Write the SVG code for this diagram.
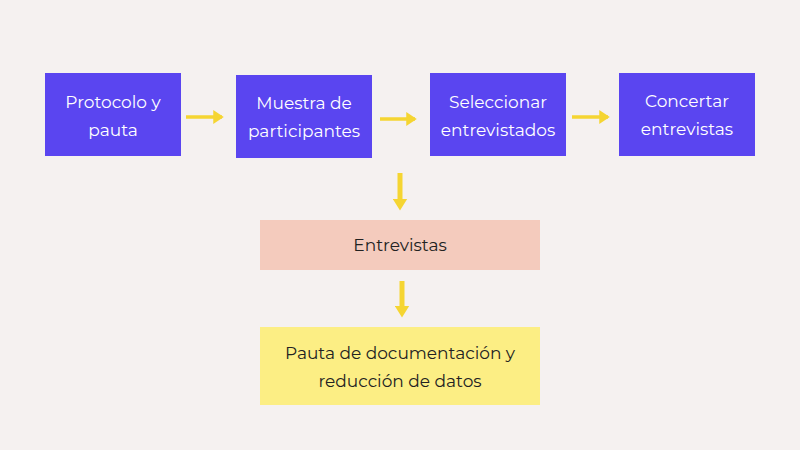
<svg xmlns="http://www.w3.org/2000/svg" width="800" height="450" viewBox="0 0 800 450">
<style>
.b{fill:#5a45f0}
.w{fill:#ffffff;font-family:Montserrat,"Open Sans","Noto Sans",sans-serif;font-size:17px;text-anchor:middle}
.d{fill:#222;font-family:Montserrat,"Open Sans","Noto Sans",sans-serif;font-size:17px;text-anchor:middle}
.c line{stroke:#f5d532;stroke-width:3.5}
</style>
<defs><marker id="a" markerWidth="4" markerHeight="4" refX="2.5" refY="2" orient="auto"><path d="M0,0 L3,2 L0,4Z" fill="#f5d532"/></marker>
<marker id="a2" markerWidth="3" markerHeight="3" refX="1.5" refY="1.5" orient="auto"><path d="M0,0 L2.4,1.5 L0,3Z" fill="#f5d532"/></marker></defs>
<rect width="800" height="450" fill="#f5f1f0"/>
<g id="n1"><rect class="b" x="45" y="73" width="136" height="83"/><text class="w" x="113" y="108">Protocolo y</text><text class="w" x="113" y="136">pauta</text></g>
<g id="n2"><rect class="b" x="236" y="75" width="136" height="83"/><text class="w" x="304" y="109">Muestra de</text><text class="w" x="304" y="137">participantes</text></g>
<g id="n3"><rect class="b" x="430" y="73" width="136" height="83"/><text class="w" x="498" y="108">Seleccionar</text><text class="w" x="498" y="136">entrevistados</text></g>
<g id="n4"><rect class="b" x="619" y="73" width="136" height="83"/><text class="w" x="687" y="107">Concertar</text><text class="w" x="687" y="135">entrevistas</text></g>
<g id="n5"><rect x="260" y="220" width="280" height="50" fill="#f4cbbd"/><text class="d" x="400" y="251">Entrevistas</text></g>
<g id="n6"><rect x="260" y="327" width="280" height="78" fill="#fcee84"/><text class="d" x="400" y="359">Pauta de documentación y</text><text class="d" x="400" y="387">reducción de datos</text></g>
<g class="c">
<line x1="186" y1="117" x2="222" y2="117" marker-end="url(#a)"/>
<line x1="380" y1="119" x2="415" y2="119" marker-end="url(#a)"/>
<line x1="572" y1="117" x2="608" y2="117" marker-end="url(#a)"/>
<line x1="400" y1="173" x2="400" y2="206" marker-end="url(#a2)" style="stroke-width:5"/>
<line x1="402" y1="281" x2="402" y2="313" marker-end="url(#a2)" style="stroke-width:5"/>
</g>
</svg>
